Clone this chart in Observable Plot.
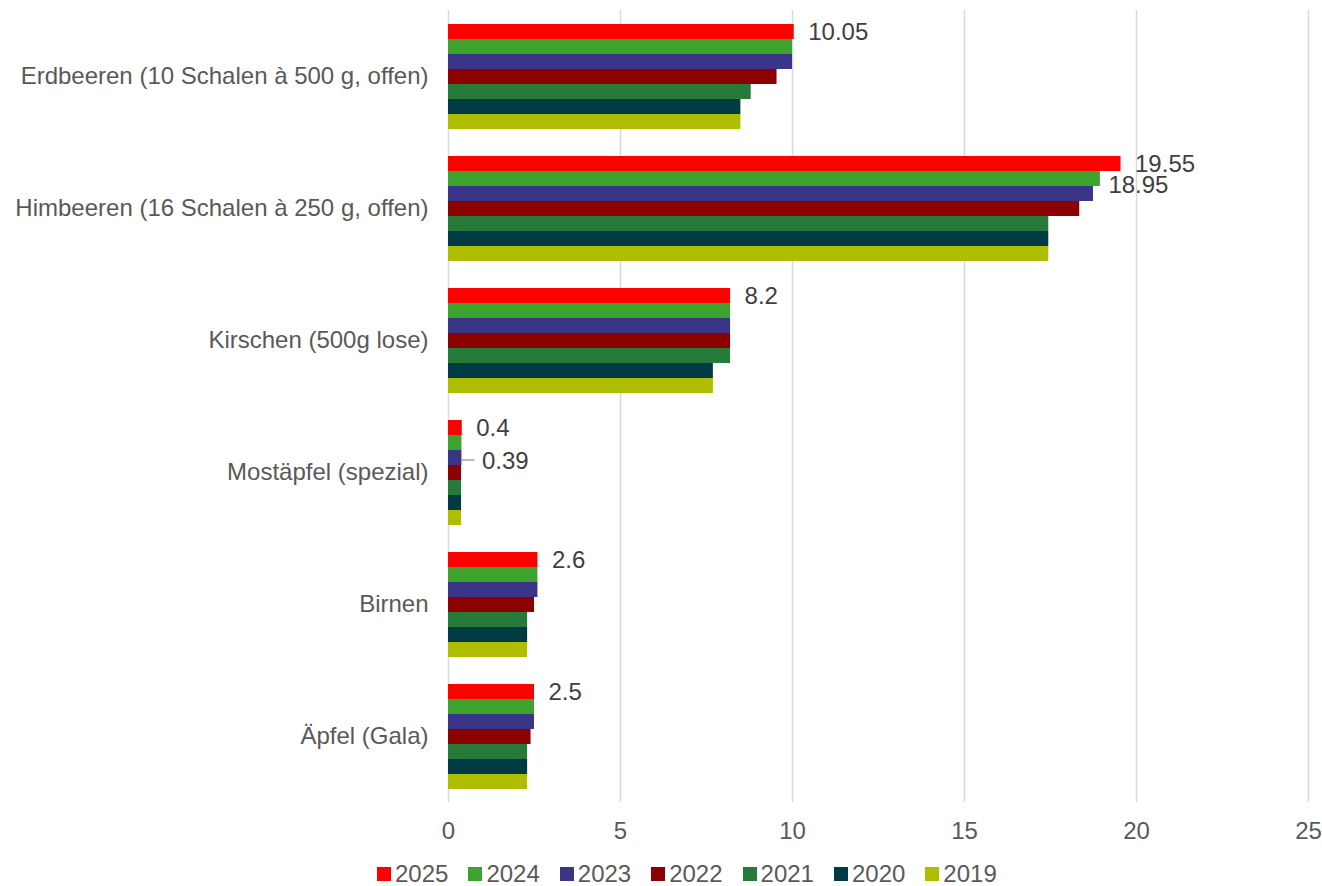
<!DOCTYPE html>
<html>
<head>
<meta charset="utf-8">
<script src="https://cdn.jsdelivr.net/npm/d3@7"></script>
<script src="https://cdn.jsdelivr.net/npm/@observablehq/plot@0.6"></script>
<style>
  html, body { margin: 0; padding: 0; background: #fff; overflow: hidden; }
  #wrap { position: relative; width: 1322px; height: 886px; font-family: "Liberation Sans", Arial, sans-serif; }
  #legend { position: absolute; left: 377px; top: 862px; height: 24px; display: flex; align-items: center; gap: 20px; font-size: 24px; color: #595959; line-height: 24px; }
  #legend .item { display: flex; align-items: center; height: 24px; }
  #legend .sw { width: 14px; height: 14px; margin-right: 4px; }
</style>
</head>
<body>
<div id="wrap">
  <div id="chart"></div>
  <div id="legend"></div>
</div>
<script>
const categories = [
  "Erdbeeren (10 Schalen à 500 g, offen)",
  "Himbeeren (16 Schalen à 250 g, offen)",
  "Kirschen (500g lose)",
  "Mostäpfel (spezial)",
  "Birnen",
  "Äpfel (Gala)"
];
const years = ["2025", "2024", "2023", "2022", "2021", "2020", "2019"];
const v2025 = [10.05, 19.55, 8.2, 0.40, 2.6, 2.5];
const v2024 = [10.00, 18.95, 8.2, 0.39, 2.6, 2.5];
const v2023 = [10.00, 18.75, 8.2, 0.39, 2.6, 2.5];
const v2022 = [9.55, 18.35, 8.2, 0.38, 2.5, 2.4];
const v2021 = [8.80, 17.45, 8.2, 0.38, 2.3, 2.3];
const v2020 = [8.50, 17.45, 7.7, 0.38, 2.3, 2.3];
const v2019 = [8.50, 17.45, 7.7, 0.38, 2.3, 2.3];
const colors = ["#ff0000", "#3ba32e", "#3a3587", "#8b0000", "#277b3a", "#003a42", "#afbd00"];
const xTicks = [0, 5, 10, 15, 20, 25];
// labelled points: [category index, year]
const labelPoints = [[0, "2025"], [1, "2025"], [2, "2025"], [3, "2025"], [4, "2025"], [5, "2025"]];
const labelShifted = [[1, "2024"]];
const labelLeader = [[3, "2023"]];

const series = {"2025": v2025, "2024": v2024, "2023": v2023, "2022": v2022, "2021": v2021, "2020": v2020, "2019": v2019};
const data = [];
categories.forEach((c, i) => years.forEach(y => data.push({category: c, year: y, value: series[y][i]})));
const pick = (list) => list.map(([i, y]) => ({category: categories[i], year: y, value: series[y][i]}));

const plot = Plot.plot({
  width: 1322,
  height: 850,
  marginLeft: 448,
  marginRight: 14,
  marginTop: 10,
  marginBottom: 48,
  style: {fontSize: "24px", fontFamily: "Liberation Sans, Arial, sans-serif", color: "#595959", background: "#fff"},
  x: {domain: [0, 25], ticks: xTicks, tickSize: 0, tickPadding: 19, label: null},
  y: {domain: years, paddingInner: 0, paddingOuter: 0.88, axis: null},
  fy: {domain: categories, padding: 0, axis: "left", label: null, tickSize: 0, tickPadding: 20},
  color: {domain: years, range: colors},
  marks: [
    Plot.gridX(xTicks, {stroke: "#d9d9d9", strokeOpacity: 1, strokeWidth: 1.5}),
    Plot.barX(data, {x: "value", y: "year", fy: "category", fill: "year"}),
    Plot.text(pick(labelPoints), {x: "value", y: "year", fy: "category", text: d => String(d.value), textAnchor: "start", dx: 14, fill: "#404040", fontSize: 24}),
    Plot.text(pick(labelShifted), {x: "value", y: "year", fy: "category", text: d => String(d.value), textAnchor: "start", dx: 8, dy: 6, fill: "#404040", fontSize: 24}),
    Plot.ruleY(pick(labelLeader), {x1: "value", x2: d => d.value + 0.38, y: "year", fy: "category", dy: 2, stroke: "#a6a6a6", strokeWidth: 1.5}),
    Plot.text(pick(labelLeader), {x: "value", y: "year", fy: "category", text: d => String(d.value), textAnchor: "start", dx: 20, dy: 3, fill: "#404040", fontSize: 24})
  ]
});
document.getElementById("chart").appendChild(plot);

const legend = document.getElementById("legend");
years.forEach((y, i) => {
  const item = document.createElement("div");
  item.className = "item";
  const sw = document.createElement("span");
  sw.className = "sw";
  sw.style.background = colors[i];
  const t = document.createElement("span");
  t.textContent = y;
  item.appendChild(sw);
  item.appendChild(t);
  legend.appendChild(item);
});
</script>
</body>
</html>
